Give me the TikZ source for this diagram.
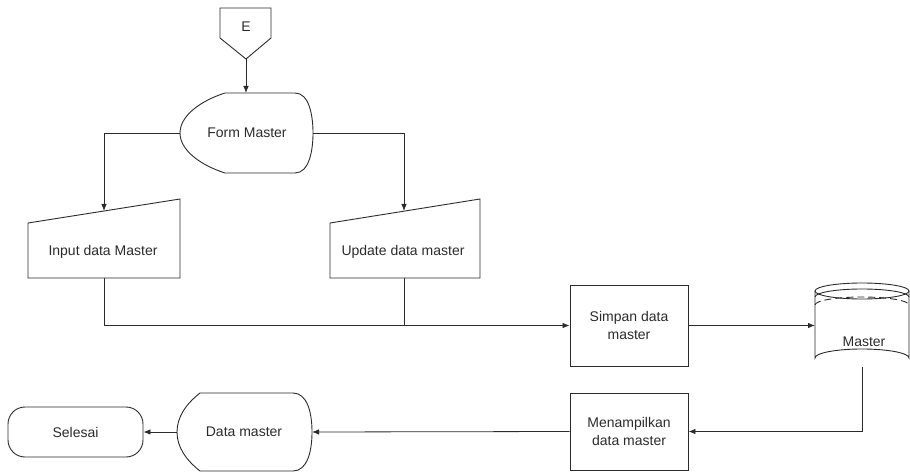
\documentclass[tikz,border=0pt]{standalone}
\usepackage{fontspec}
\setmainfont{Liberation Sans}
\usetikzlibrary{arrows.meta}
\definecolor{ink}{HTML}{2B2B2B}
\begin{document}
\begin{tikzpicture}[x=1pt,y=-1pt,
  line width=0.9pt, draw=ink, text=ink,
  font=\fontsize{14}{18}\selectfont,
  shapeline/.style={draw=ink, line width=0.9pt},
  flow/.style={draw=ink, line width=0.8pt},
  arrowflow/.style={flow, -{Latex[length=7pt,width=5.5pt]}},
  label/.style={inner sep=0pt, align=center},
  procbox/.style={draw=ink, line width=0.9pt, rectangle, align=center, inner sep=0pt},
  endbox/.style={draw=ink, line width=0.9pt, rectangle, rounded corners=17pt, inner sep=0pt}
]
\useasboundingbox (0,0) rectangle (910,473);

% off-page connector E
\draw[shapeline] (220,8) -- (271,8) -- (271,38) -- (246,59) -- (220,38) -- cycle;
\node[label] (e) at (246,27) {E};
\coordinate (eBot) at (246,59);

% display: Form Master
\draw[shapeline] (225,93) -- (295,93)
  .. controls (309,93) and (313,115) .. (313,133)
  .. controls (313,151) and (309,173) .. (295,173) -- (225,173)
  .. controls (200,165) and (180,150) .. (180,133)
  .. controls (180,116) and (200,101) .. (225,93) -- cycle;
\node[label] (form) at (247,133) {Form Master};
\coordinate (formTop) at (246,93);
\coordinate (formW) at (180,133);
\coordinate (formE) at (313,133);

% manual input: Input data Master
\draw[shapeline] (28,223) -- (180,199) -- (180,278) -- (28,278) -- cycle;
\node[label] (input) at (103,252) {Input data Master};
\coordinate (inputTop) at (104,211);
\coordinate (inputBot) at (104,278);

% manual input: Update data master
\draw[shapeline] (330,223) -- (480,199) -- (480,278) -- (330,278) -- cycle;
\node[label] (update) at (403,252) {Update data master};
\coordinate (updateTop) at (404,211);
\coordinate (updateBot) at (404,278);

% process: Simpan data master
\node[procbox, minimum width=118pt, minimum height=81pt] (simpan) at (629,325.5) {Simpan data\\master};

% stored data: Master
\draw[shapeline] (815,291) -- (815,358) arc[start angle=180, end angle=360, x radius=47, y radius=9] -- (909,291);
\draw[shapeline] (862,291) ellipse[x radius=47, y radius=8];
\draw[shapeline] (815,297) arc[start angle=180, end angle=360, x radius=47, y radius=8];
\draw[shapeline, dashed, dash pattern=on 7pt off 4pt] (815,305) arc[start angle=180, end angle=360, x radius=47, y radius=8];
\node[label] (master) at (864,342) {Master};
\coordinate (masterW) at (815,325.5);
\coordinate (masterBot) at (862,367);

% process: Menampilkan data master
\node[procbox, minimum width=118pt, minimum height=77pt] (tampil) at (629,431.5) {Menampilkan\\data master};

% display: Data master
\draw[shapeline] (200,393) -- (293,393)
  .. controls (307,393) and (312,412) .. (312,432)
  .. controls (312,452) and (307,471) .. (293,471) -- (200,471)
  .. controls (186,460) and (177,447) .. (177,432)
  .. controls (177,417) and (186,404) .. (200,393) -- cycle;
\node[label] (data) at (244,432) {Data master};
\coordinate (dataE) at (312,432);
\coordinate (dataW) at (177,432);

% terminator: Selesai
\node[endbox, minimum width=135pt, minimum height=50pt] (selesai) at (75.5,432) {Selesai};

% connectors
\draw[arrowflow] (eBot) -- (formTop);
\draw[arrowflow] (formW) -| (inputTop);
\draw[arrowflow] (formE) -| (updateTop);
\draw[arrowflow] (inputBot) |- (simpan.west);
\draw[flow] (updateBot) -- (updateBot |- simpan.west);
\draw[arrowflow] (simpan.east) -- (masterW);
\draw[arrowflow] (masterBot) |- (tampil.east);
\draw[arrowflow] (tampil.west) -- (dataE);
\draw[arrowflow] (dataW) -- (selesai.east);
\end{tikzpicture}
\end{document}
